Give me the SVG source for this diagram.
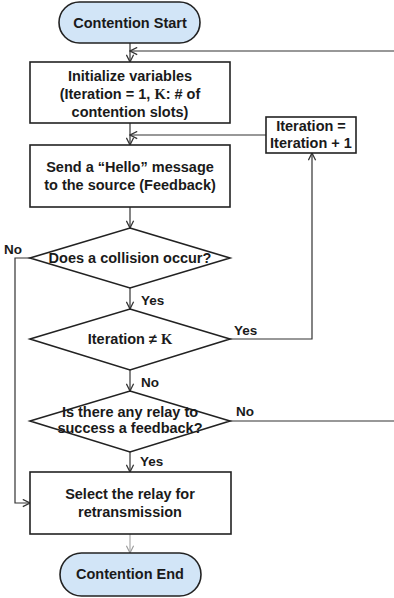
<svg xmlns="http://www.w3.org/2000/svg" width="394" height="598" viewBox="0 0 394 598">
<defs>
<marker id="arr" viewBox="0 0 10 10" refX="9" refY="5" markerWidth="9" markerHeight="9" markerUnits="userSpaceOnUse" orient="auto">
<path d="M1,1 L9,5 L1,9" fill="none" stroke="#333" stroke-width="1.4"/>
</marker>
<marker id="arrg" viewBox="0 0 10 10" refX="9" refY="5" markerWidth="9" markerHeight="9" markerUnits="userSpaceOnUse" orient="auto">
<path d="M1,1 L9,5 L1,9" fill="none" stroke="#999" stroke-width="1.2"/>
</marker>
</defs>
<style>
.box{fill:#fff;stroke:#222;stroke-width:1.6}
.term{fill:#d2e5f7;stroke:#222;stroke-width:1.6}
.ln{fill:none;stroke:#333;stroke-width:1.2}
.t{font-family:"Liberation Sans",Arial,sans-serif;font-weight:bold;font-size:14.5px;fill:#1a1a1a;text-anchor:middle}
.lb{font-family:"Liberation Sans",Arial,sans-serif;font-weight:bold;font-size:13.5px;fill:#1a1a1a}
.k{font-family:"Liberation Serif","Times New Roman",serif;font-weight:bold}
</style>
<rect width="394" height="598" fill="#fff"/>
<g id="connectors">
<line class="ln" x1="130" y1="43" x2="130" y2="62" marker-end="url(#arr)"/>
<line class="ln" x1="394" y1="51" x2="130" y2="51" marker-end="url(#arr)"/>
<line class="ln" x1="130" y1="123" x2="130" y2="145" marker-end="url(#arr)"/>
<line class="ln" x1="266" y1="135" x2="130" y2="135" marker-end="url(#arr)"/>
<line class="ln" x1="130" y1="207" x2="130" y2="228" marker-end="url(#arr)"/>
<polyline class="ln" points="30,258 15,258 15,503 30,503" marker-end="url(#arr)"/>
<line class="ln" x1="130" y1="288" x2="130" y2="309" marker-end="url(#arr)"/>
<polyline class="ln" points="230,339 312,339 312,153" marker-end="url(#arr)"/>
<line class="ln" x1="130" y1="370" x2="130" y2="391" marker-end="url(#arr)"/>
<line class="ln" x1="230" y1="421" x2="394" y2="421"/>
<line class="ln" x1="130" y1="452" x2="130" y2="472" marker-end="url(#arr)"/>
<line x1="130" y1="534" x2="130" y2="553" stroke="#999" stroke-width="1" marker-end="url(#arrg)"/>
</g>
<g id="start">
<rect class="term" x="59" y="2" width="141" height="41" rx="20.5"/>
<text class="t" x="130" y="27.5">Contention Start</text>
</g>
<g id="init">
<rect class="box" x="30" y="62" width="200" height="61"/>
<text class="t" x="130" y="81">Initialize variables</text>
<text class="t" x="130" y="99">(Iteration = 1, <tspan class="k">K</tspan>: # of</text>
<text class="t" x="130" y="117">contention slots)</text>
</g>
<g id="iter">
<rect class="box" x="266" y="117" width="90" height="36"/>
<text class="t" x="311" y="131">Iteration =</text>
<text class="t" x="311" y="148">Iteration + 1</text>
</g>
<g id="send">
<rect class="box" x="30" y="145" width="200" height="62"/>
<text class="t" x="130" y="172">Send a “Hello” message</text>
<text class="t" x="130" y="190">to the source (Feedback)</text>
</g>
<g id="collision">
<polygon class="box" points="130,228 230,258 130,288 30,258"/>
<text class="t" x="130" y="263">Does a collision occur?</text>
<text class="lb" x="4" y="254">No</text>
<text class="lb" x="141" y="305">Yes</text>
</g>
<g id="iterk">
<polygon class="box" points="130,309 230,339 130,370 30,339"/>
<text class="t" x="130" y="344">Iteration ≠ <tspan class="k">K</tspan></text>
<text class="lb" x="234" y="335">Yes</text>
<text class="lb" x="141" y="387">No</text>
</g>
<g id="relay">
<polygon class="box" points="130,391 230,421 130,452 30,421"/>
<text class="t" x="130" y="417">Is there any relay to</text>
<text class="t" x="130" y="433">success a feedback?</text>
<text class="lb" x="236" y="416">No</text>
<text class="lb" x="140" y="466">Yes</text>
</g>
<g id="select">
<rect class="box" x="30" y="472" width="201" height="62"/>
<text class="t" x="130" y="499">Select the relay for</text>
<text class="t" x="130" y="517">retransmission</text>
</g>
<g id="end">
<rect class="term" x="60" y="553" width="141" height="43" rx="21.5"/>
<text class="t" x="130" y="579">Contention End</text>
</g>
</svg>
